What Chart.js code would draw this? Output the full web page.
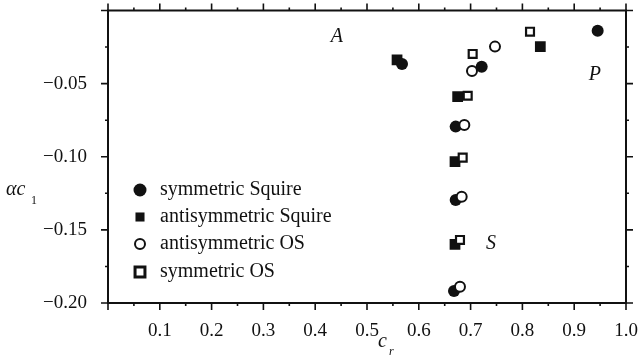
<!DOCTYPE html>
<html>
<head>
<meta charset="utf-8">
<script src="https://cdn.jsdelivr.net/npm/chart.js@4.4.1/dist/chart.umd.min.js"></script>
<style>
	html, body { margin: 0; padding: 0; background: #fff; }
	canvas { display: block; }
</style>
</head>
<body>
<canvas id="modes" width="643" height="362"></canvas>
<script>
( function () {
	'use strict';

	// Phase speeds: real part c_r and growth term alpha*c_i, one pair of arrays per mode family
	const symSquireX  = [ 0.5676, 0.7214, 0.9453, 0.6712, 0.6712, 0.668 ];
	const symSquireY  = [ -0.0366, -0.0384, -0.0138, -0.0794, -0.1296, -0.1918 ];
	const antiSquireX = [ 0.558, 0.8346, 0.675, 0.6699, 0.6699 ];
	const antiSquireY = [ -0.0338, -0.0247, -0.0589, -0.1034, -0.1599 ];
	const antiOSX     = [ 0.7471, 0.7027, 0.6879, 0.6828, 0.6795 ];
	const antiOSY     = [ -0.0247, -0.0414, -0.0783, -0.1273, -0.1889 ];
	const symOSX      = [ 0.8147, 0.704, 0.6944, 0.6847, 0.6795 ];
	const symOSY      = [ -0.0145, -0.0297, -0.0583, -0.1006, -0.1569 ];

	const seriesNames = [ 'symmetric Squire', 'antisymmetric Squire', 'antisymmetric OS', 'symmetric OS' ];

	// Axis ticks
	const xMajor = [ 0, 0.1, 0.2, 0.3, 0.4, 0.5, 0.6, 0.7, 0.8, 0.9, 1.0 ];
	const xMinor = [ 0.05, 0.15, 0.25, 0.35, 0.45, 0.55, 0.65, 0.75, 0.85, 0.95 ];
	const yMajor = [ -0.2, -0.15, -0.1, -0.05, 0 ];
	const yMinor = [ -0.175, -0.125, -0.075, -0.025 ];

	// Branch letters
	const branchText = [ 'A', 'P', 'S' ];
	const branchX    = [ 0.442, 0.940, 0.7394 ];
	const branchY    = [ -0.0178, -0.0441, -0.1593 ];

	const INK   = '#111';
	const SERIF = "'Liberation Serif', 'DejaVu Serif', serif";

	function pairs( xs, ys ) {
		return xs.map( function ( x, i ) { return { x: x, y: ys[ i ] }; } );
	}

	const styles = [
		{ pointStyle: 'circle', pointRadius: 6,   pointBackgroundColor: INK,    pointBorderColor: INK, pointBorderWidth: 0 },
		{ pointStyle: 'rect',   pointRadius: 7.6, pointBackgroundColor: INK,    pointBorderColor: INK, pointBorderWidth: 0 },
		{ pointStyle: 'circle', pointRadius: 5,   pointBackgroundColor: '#fff', pointBorderColor: INK, pointBorderWidth: 2 },
		{ pointStyle: 'rect',   pointRadius: 5.6, pointBackgroundColor: '#fff', pointBorderColor: INK, pointBorderWidth: 2.2 },
	];

	// Legend markers are drawn a little differently from the plot marks
	const legendMarks = [
		{ pointStyle: 'circle', radius: 6.5, fill: INK,    stroke: INK, borderWidth: 0 },
		{ pointStyle: 'rect',   radius: 6.4, fill: INK,    stroke: INK, borderWidth: 0 },
		{ pointStyle: 'circle', radius: 5,   fill: '#fff', stroke: INK, borderWidth: 2 },
		{ pointStyle: 'rect',   radius: 7,   fill: '#fff', stroke: INK, borderWidth: 3 },
	];
	const legendRowY = [ 190, 217, 244, 272 ];

	function fmtTick( v ) {
		if ( Math.abs( v ) < 1e-9 ) return '';
		return v < 0 ? '\u2212' + Math.abs( v ).toFixed( 2 ) : v.toFixed( 1 );
	}

	const frame = {
		id: 'frame',
		afterDraw: function ( chart ) {
			const ctx = chart.ctx;
			const a   = chart.chartArea;
			const sx  = chart.scales.x;
			const sy  = chart.scales.y;

			ctx.save();
			ctx.strokeStyle = INK;
			ctx.lineWidth   = 2;
			ctx.strokeRect( a.left, a.top, a.right - a.left, a.bottom - a.top );

			// outward ticks on all four sides
			ctx.lineWidth = 1.6;
			ctx.beginPath();
			function xTick( v, len ) {
				const px = sx.getPixelForValue( v );
				ctx.moveTo( px, a.bottom ); ctx.lineTo( px, a.bottom + len );
				ctx.moveTo( px, a.top );    ctx.lineTo( px, a.top - len );
			}
			function yTick( v, len ) {
				const py = sy.getPixelForValue( v );
				ctx.moveTo( a.left, py );  ctx.lineTo( a.left - len, py );
				ctx.moveTo( a.right, py ); ctx.lineTo( a.right + len, py );
			}
			xMajor.forEach( function ( v ) { xTick( v, 7 ); } );
			xMinor.forEach( function ( v ) { xTick( v, 3 ); } );
			yMajor.forEach( function ( v ) { yTick( v, 7 ); } );
			yMinor.forEach( function ( v ) { yTick( v, 3 ); } );
			ctx.stroke();

			ctx.fillStyle = INK;
			ctx.textBaseline = 'alphabetic';

			// axis titles
			ctx.textAlign = 'left';
			ctx.font = 'italic 20px ' + SERIF;
			ctx.fillText( '\u03b1c', 6, 195 );
			ctx.font = '12px ' + SERIF;
			ctx.fillText( '1', 31, 204 );

			ctx.font = 'italic 20px ' + SERIF;
			ctx.fillText( 'c', 378, 347 );
			ctx.font = 'italic 12px ' + SERIF;
			ctx.fillText( 'r', 389, 355 );

			// branch letters
			ctx.textAlign    = 'center';
			ctx.textBaseline = 'middle';
			ctx.font = 'italic 20px ' + SERIF;
			branchText.forEach( function ( t, i ) {
				ctx.fillText( t, sx.getPixelForValue( branchX[ i ] ), sy.getPixelForValue( branchY[ i ] ) );
			} );

			// legend
			ctx.textAlign = 'left';
			ctx.font = '20px ' + SERIF;
			seriesNames.forEach( function ( name, i ) {
				const m = legendMarks[ i ];
				ctx.fillStyle   = m.fill;
				ctx.strokeStyle = m.stroke;
				ctx.lineWidth   = m.borderWidth;
				Chart.helpers.drawPoint( ctx, { pointStyle: m.pointStyle, radius: m.radius, borderWidth: m.borderWidth, rotation: 0 }, 140, legendRowY[ i ] );
				ctx.fillStyle = INK;
				ctx.fillText( name, 160, legendRowY[ i ] );
			} );
			ctx.restore();
		},
	};

	const sources = [ [ symSquireX, symSquireY ], [ antiSquireX, antiSquireY ], [ antiOSX, antiOSY ], [ symOSX, symOSY ] ];
	// filled marks first, open marks laid over them
	const drawOrder = [ 2, 2, 1, 1 ];

	const datasets = seriesNames.map( function ( name, i ) {
		return Object.assign( {
			label: name,
			data:  pairs( sources[ i ][ 0 ], sources[ i ][ 1 ] ),
			order: drawOrder[ i ],
			pointHoverRadius: styles[ i ].pointRadius,
		}, styles[ i ] );
	} );

	new Chart( document.getElementById( 'modes' ), {
		type: 'scatter',
		data: { datasets: datasets },
		options: {
			responsive: false,
			animation:  false,
			layout: { padding: { top: 10.5, right: 17, left: 0, bottom: 0 } },
			plugins: {
				legend:  { display: false },
				tooltip: { enabled: false },
			},
			scales: {
				x: {
					type: 'linear',
					min: 0,
					max: 1,
					grid:   { display: false },
					border: { display: false },
					afterBuildTicks: function ( s ) { s.ticks = xMajor.map( function ( v ) { return { value: v }; } ); },
					afterFit: function ( s ) {
						s.height = 59;
						s.paddingLeft = 0;
						s.paddingRight = 0;
					},
					ticks: {
						padding: 9,
						color: INK,
						maxRotation: 0,
						autoSkip: false,
						font: { family: SERIF, size: 19 },
						callback: function ( v ) { return fmtTick( v ); },
					},
				},
				y: {
					type: 'linear',
					min: -0.2,
					max: 0,
					grid:   { display: false },
					border: { display: false },
					afterBuildTicks: function ( s ) { s.ticks = yMajor.map( function ( v ) { return { value: v }; } ); },
					afterFit: function ( s ) {
						s.width = 108;
						s.paddingTop = 0;
						s.paddingBottom = 0;
					},
					ticks: {
						padding: 13,
						color: INK,
						autoSkip: false,
						font: { family: SERIF, size: 19 },
						callback: function ( v ) { return fmtTick( v ); },
					},
				},
			},
		},
		plugins: [ frame ],
	} );
} )();
</script>
</body>
</html>
